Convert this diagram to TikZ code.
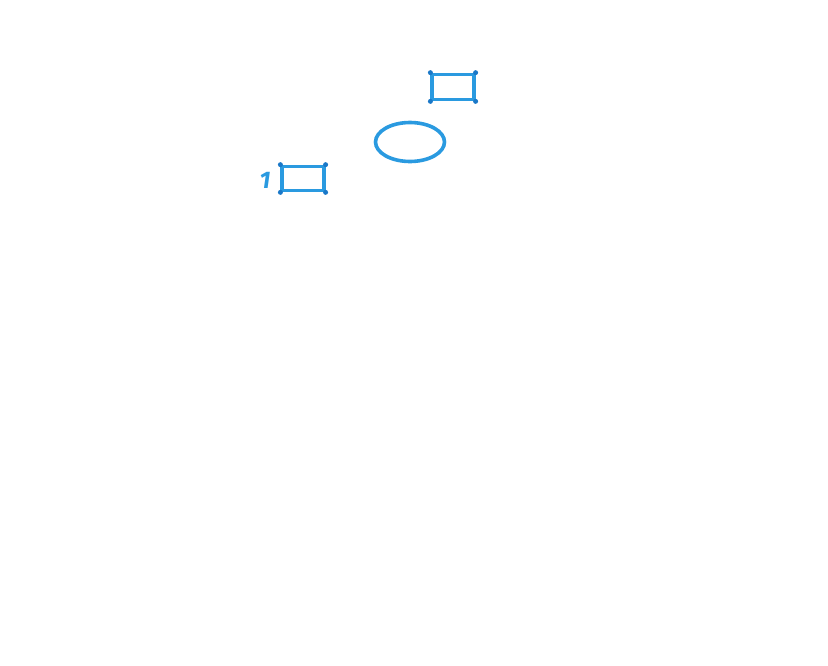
\documentclass[tikz,border=0pt]{standalone}
\usepackage{fontspec}
\setsansfont{Fira Sans}
\usetikzlibrary{shapes.geometric}
\definecolor{sketchblue}{HTML}{2A9AE0}
\definecolor{dotblue}{HTML}{1A78C8}
\begin{document}
\begin{tikzpicture}[x=1pt, y=-1pt,
   box/.style={draw=sketchblue, line width=3.2pt, inner sep=0pt},
   oval/.style={draw=sketchblue, line width=3.6pt, ellipse, inner sep=0pt,
                minimum width=69pt, minimum height=39pt},
   corner/.style={fill=dotblue, circle, inner sep=0pt, minimum size=5pt},
   tag/.style={text=sketchblue, font=\sffamily\bfseries\itshape\fontsize{24}{24}\selectfont}]
\useasboundingbox (0,0) rectangle (828,665);

\node[box, minimum width=42pt, minimum height=25.5pt] (top) at (453,87) {};
\node[oval] (mid) at (410,142) {};
\node[box, minimum width=42pt, minimum height=24.5pt] (low) at (303,178.5) {};
\node[tag, anchor=east] (one) at (274,180) {1};

\foreach \n in {top,low}
  \foreach \c in {north west,north east,south west,south east}
    \node[corner] at (\n.\c) {};

\end{tikzpicture}
\end{document}
